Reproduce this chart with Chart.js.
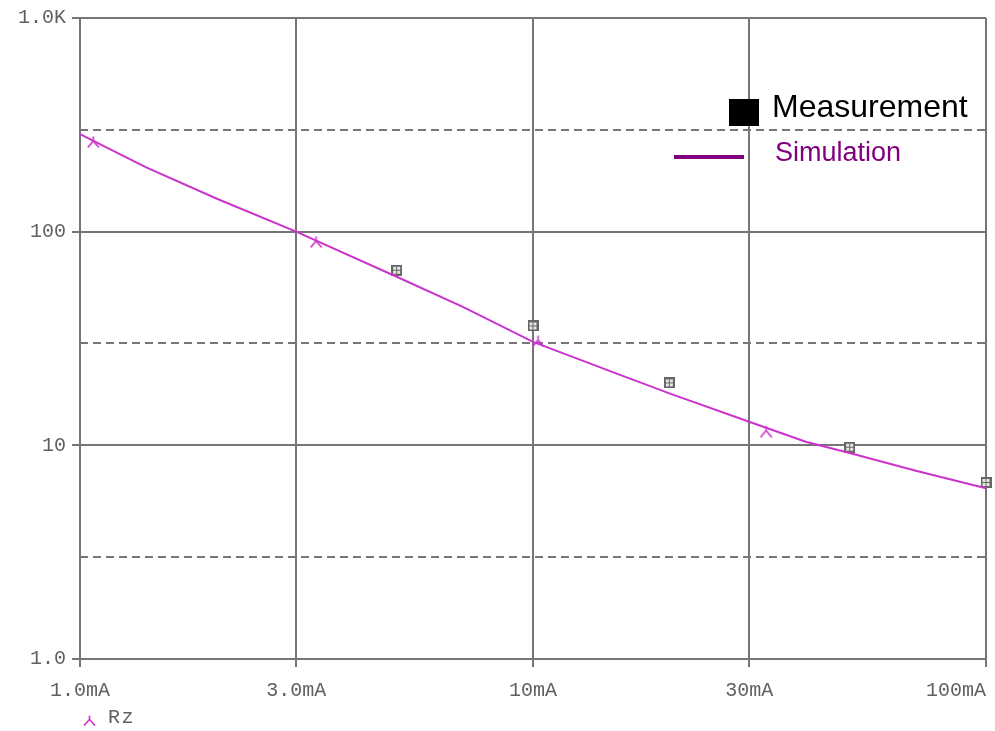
<!DOCTYPE html>
<html>
<head>
<meta charset="utf-8">
<script src="https://cdn.jsdelivr.net/npm/chart.js@4"></script>
<style>
  body { margin: 0; background: #fff; }
  #wrap { position: relative; width: 995px; height: 731px; }
  .ov { position: absolute; white-space: nowrap; }
</style>
</head>
<body>
<div id="wrap">
  <canvas id="rzChart" width="995" height="731"></canvas>
  <!-- overlay legend, top right -->
  <div class="ov" style="left:729px; top:99px; width:30px; height:27px; background:#000;"></div>
  <div class="ov" style="left:772px; top:90px; font:32px/32px 'Liberation Sans', Arial, sans-serif; color:#000;">Measurement</div>
  <div class="ov" style="left:674px; top:155px; width:70px; height:4px; background:#800080;"></div>
  <div class="ov" style="left:775px; top:139px; font:27px/27px 'Liberation Sans', Arial, sans-serif; color:#800080;">Simulation</div>
  <!-- trace legend under the x axis -->
  <svg class="ov" style="left:83px; top:715px;" width="13" height="11">
    <polyline points="6.5,0.5 6.5,4.5 1,10.5" fill="none" stroke="#cc33cc" stroke-width="1.6"/>
    <polyline points="6.5,4.5 12,10.5" fill="none" stroke="#cc33cc" stroke-width="1.6"/>
  </svg>
  <div class="ov" style="left:108px; top:708px; font:20px/20px 'Liberation Mono', monospace; letter-spacing:1.5px; color:#606060;">Rz</div>
</div>
<script>
// DATA
// x axis: current in mA, y axis: Rz in ohms (log-log)
const xTicks = [1, 3, 10, 30, 100];
const xLabels = ['1.0mA', '3.0mA', '10mA', '30mA', '100mA'];
const yTicks = [1, 10, 100, 1000];
const yLabels = ['1.0', '10', '100', '1.0K'];
const yDashed = [3, 30, 300];

// simulated Rz trace
const simX = [1, 1.4, 2, 3, 5, 7, 10, 15, 20, 30, 40, 50, 70, 100];
const simY = [286, 200, 143, 100, 61.5, 44.5, 30.5, 22, 17.5, 12.9, 10.4, 9.2, 7.6, 6.3];

// trace markers drawn along the simulation curve
const markX = [1.07, 3.32, 10.26, 32.7];
const markY = [263, 89.5, 30.8, 11.6];

// measured points
const measX = [5, 10, 20, 50, 100];
const measY = [66, 36.2, 19.6, 9.8, 6.7];

const gridColor = '#767676';
const labelColor = '#606060';
const tickFont = { family: "'Liberation Mono', monospace", size: 20 };

// MARKER IMAGES
function makeMeasMark() {
  const c = document.createElement('canvas');
  c.width = 11; c.height = 11;
  const g = c.getContext('2d');
  g.fillStyle = '#666';
  g.fillRect(0, 0, 11, 11);
  g.fillStyle = '#e6e6e6';
  [[2, 2], [6, 2], [2, 6], [6, 6]].forEach(p => g.fillRect(p[0], p[1], 3, 3));
  return c;
}

function makeSimMark() {
  const c = document.createElement('canvas');
  c.width = 13; c.height = 12;
  const g = c.getContext('2d');
  g.strokeStyle = '#cc33cc';
  g.lineWidth = 1.6;
  g.beginPath();
  g.moveTo(6.5, 0.5); g.lineTo(6.5, 5); g.lineTo(1, 11.5);
  g.moveTo(6.5, 5); g.lineTo(12, 11.5);
  g.stroke();
  return c;
}

// dashed horizontal grid lines at 3, 30, 300
const dashedGrid = {
  id: 'dashedGrid',
  beforeInit(chart) {
    if ('letterSpacing' in chart.ctx) chart.ctx.letterSpacing = '1.5px';
  },
  beforeDatasetsDraw(chart) {
    const { ctx, chartArea, scales } = chart;
    ctx.save();
    ctx.strokeStyle = gridColor;
    ctx.lineWidth = 2;
    ctx.setLineDash([8, 5]);
    yDashed.forEach(v => {
      const py = Math.round(scales.y.getPixelForValue(v));
      ctx.beginPath();
      ctx.moveTo(chartArea.left, py);
      ctx.lineTo(chartArea.right, py);
      ctx.stroke();
    });
    ctx.restore();
  }
};

const ctx = document.getElementById('rzChart').getContext('2d');
new Chart(ctx, {
  type: 'line',
  data: {
    datasets: [
      {
        label: 'Simulation',
        data: simX.map((x, i) => ({ x, y: simY[i] })),
        borderColor: '#cc33cc',
        borderWidth: 2,
        pointRadius: 0,
        tension: 0,
        clip: false
      },
      {
        label: 'Rz',
        data: markX.map((x, i) => ({ x, y: markY[i] })),
        showLine: false,
        pointStyle: makeSimMark(),
        clip: false
      },
      {
        label: 'Measurement',
        data: measX.map((x, i) => ({ x, y: measY[i] })),
        showLine: false,
        pointStyle: makeMeasMark(),
        clip: false
      }
    ]
  },
  options: {
    responsive: false,
    animation: false,
    layout: { padding: { left: 0, right: 9, top: 18, bottom: 0 } },
    plugins: {
      legend: { display: false },
      tooltip: { enabled: false }
    },
    scales: {
      x: {
        type: 'logarithmic',
        min: 1,
        max: 100,
        afterBuildTicks: s => { s.ticks = xTicks.map(v => ({ value: v })); },
        afterFit: s => { s.height = 72; s.paddingLeft = 0; s.paddingRight = 0; },
        ticks: {
          font: tickFont,
          color: labelColor,
          padding: 12,
          maxRotation: 0,
          autoSkip: false,
          // last label sits left of its tick, as in the original plot
          callback: (v, i) => i === xTicks.length - 1 ? xLabels[i] + ' '.repeat(xLabels[i].length) : xLabels[i]
        },
        grid: { color: gridColor, lineWidth: 2, tickLength: 8 },
        border: { color: gridColor, width: 2 }
      },
      y: {
        type: 'logarithmic',
        min: 1,
        max: 1000,
        afterBuildTicks: s => { s.ticks = yTicks.map(v => ({ value: v })); },
        afterFit: s => { s.width = 80; s.paddingTop = 0; s.paddingBottom = 0; },
        ticks: {
          font: tickFont,
          color: labelColor,
          padding: 6,
          autoSkip: false,
          callback: (v, i) => yLabels[i]
        },
        grid: { color: gridColor, lineWidth: 2, tickLength: 8 },
        border: { color: gridColor, width: 2 }
      }
    }
  },
  plugins: [dashedGrid]
});
</script>
</body>
</html>
